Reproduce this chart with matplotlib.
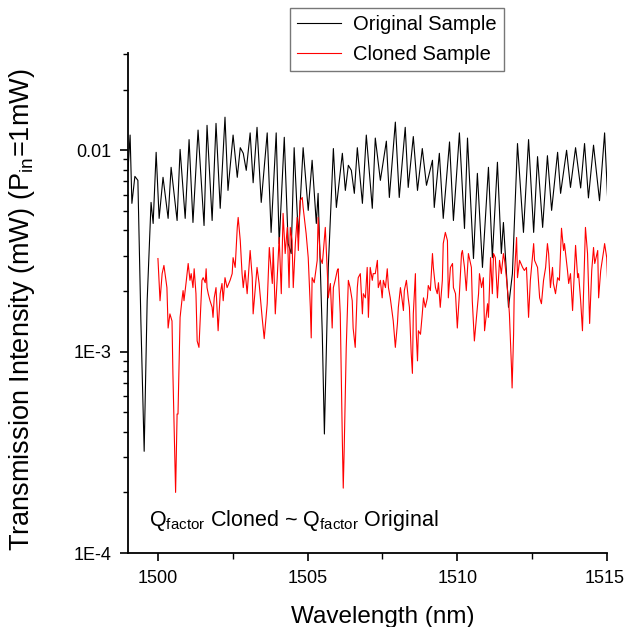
import numpy as np
import matplotlib
matplotlib.use("Agg")
import matplotlib.pyplot as plt
import matplotlib.transforms as mtransforms
from matplotlib.ticker import FixedLocator, FixedFormatter, LogLocator, NullFormatter

plt.rcParams['font.family'] = ['Liberation Sans', 'DejaVu Sans']
plt.rcParams['mathtext.fontset'] = 'custom'
plt.rcParams['mathtext.rm'] = 'Liberation Sans'
plt.rcParams['mathtext.it'] = 'Liberation Sans:italic'

# Original sample (wavelength nm, transmission mW)
orig_nm = [1499.00, 1499.07, 1499.13, 1499.23, 1499.33, 1499.43, 1499.54, 1499.64, 1499.77, 1499.84,
           1499.94, 1500.04, 1500.17, 1500.34, 1500.44, 1500.64, 1500.74, 1500.91, 1501.04, 1501.17,
           1501.34, 1501.54, 1501.64, 1501.81, 1501.94, 1502.08, 1502.24, 1502.34, 1502.51, 1502.65,
           1502.75, 1502.85, 1502.95, 1503.08, 1503.18, 1503.31, 1503.45, 1503.65, 1503.78, 1503.95,
           1504.05, 1504.22, 1504.35, 1504.45, 1504.55, 1504.69, 1504.85, 1505.02, 1505.15, 1505.29,
           1505.35, 1505.49, 1505.56, 1505.69, 1505.86, 1505.96, 1506.16, 1506.26, 1506.36, 1506.46,
           1506.56, 1506.66, 1506.83, 1506.96, 1507.16, 1507.26, 1507.43, 1507.63, 1507.73, 1507.93,
           1508.06, 1508.26, 1508.36, 1508.53, 1508.67, 1508.83, 1508.97, 1509.17, 1509.23, 1509.40,
           1509.53, 1509.74, 1509.87, 1510.07, 1510.24, 1510.34, 1510.54, 1510.67, 1510.84, 1511.04,
           1511.17, 1511.34, 1511.47, 1511.54, 1511.71, 1511.84, 1512.01, 1512.21, 1512.38, 1512.55,
           1512.68, 1512.85, 1513.01, 1513.15, 1513.35, 1513.45, 1513.65, 1513.78, 1513.95, 1514.12,
           1514.25, 1514.38, 1514.55, 1514.75, 1514.92, 1515.02]
orig_mw = [0.0080, 0.0119, 0.00545, 0.00742, 0.00709, 0.00142, 0.00032, 0.00179, 0.00551, 0.00433,
           0.00977, 0.00459, 0.00734, 0.00459, 0.00823, 0.00448, 0.0101, 0.00459, 0.0113, 0.00438,
           0.0126, 0.00423, 0.0133, 0.00448, 0.0136, 0.00515, 0.0146, 0.00632, 0.0119, 0.00734,
           0.0103, 0.00966, 0.00795, 0.0122, 0.0069, 0.0130, 0.00551, 0.0122, 0.00391, 0.0122,
           0.00344, 0.0116, 0.00344, 0.00307, 0.0103, 0.00369, 0.0103, 0.00503, 0.00892, 0.00433,
           0.00611, 0.00122, 0.00039, 0.00262, 0.0102, 0.0052, 0.00966, 0.00632, 0.00842, 0.00795,
           0.00611, 0.0103, 0.00545, 0.0119, 0.00515, 0.0115, 0.00709, 0.0111, 0.00583, 0.0138,
           0.00583, 0.0130, 0.00654, 0.0117, 0.00632, 0.0102, 0.0067, 0.00892, 0.0052, 0.00966,
           0.00459, 0.0110, 0.00448, 0.0122, 0.00409, 0.0115, 0.0029, 0.00768, 0.00262, 0.00823,
           0.00293, 0.00872, 0.00307, 0.00438, 0.00166, 0.00244, 0.0108, 0.00391, 0.0113, 0.00391,
           0.0093, 0.00414, 0.0094, 0.00503, 0.00977, 0.00611, 0.0100, 0.00654, 0.0103, 0.0065,
           0.0108, 0.0058, 0.0106, 0.00562, 0.0122, 0.0058]

# Cloned sample
clone_nm = [1500.00, 1500.07, 1500.14, 1500.20, 1500.30, 1500.34, 1500.40, 1500.47, 1500.50, 1500.57,
            1500.59, 1500.64, 1500.67, 1500.74, 1500.81, 1500.84, 1500.87, 1500.94, 1501.01, 1501.07,
            1501.11, 1501.17, 1501.21, 1501.27, 1501.31, 1501.37, 1501.47, 1501.51, 1501.58, 1501.61,
            1501.64, 1501.68, 1501.74, 1501.81, 1501.84, 1501.88, 1501.94, 1502.01, 1502.08, 1502.14,
            1502.18, 1502.24, 1502.31, 1502.41, 1502.48, 1502.51, 1502.58, 1502.65, 1502.68, 1502.75,
            1502.81, 1502.85, 1502.91, 1502.98, 1503.01, 1503.08, 1503.15, 1503.18, 1503.31, 1503.38,
            1503.48, 1503.55, 1503.65, 1503.72, 1503.82, 1503.85, 1503.92, 1503.98, 1504.05, 1504.12,
            1504.18, 1504.25, 1504.32, 1504.38, 1504.42, 1504.48, 1504.52, 1504.59, 1504.65, 1504.69,
            1504.75, 1504.82, 1504.85, 1504.95, 1505.02, 1505.09, 1505.12, 1505.15, 1505.22, 1505.32,
            1505.35, 1505.42, 1505.49, 1505.52, 1505.59, 1505.66, 1505.69, 1505.76, 1505.82, 1505.86,
            1505.92, 1505.99, 1506.02, 1506.09, 1506.16, 1506.19, 1506.22, 1506.29, 1506.36, 1506.42,
            1506.49, 1506.52, 1506.59, 1506.66, 1506.69, 1506.76, 1506.83, 1506.86, 1506.93, 1506.99,
            1507.03, 1507.09, 1507.16, 1507.19, 1507.26, 1507.33, 1507.36, 1507.43, 1507.49, 1507.53,
            1507.60, 1507.66, 1507.70, 1507.76, 1507.83, 1507.86, 1507.93, 1508.00, 1508.03, 1508.10,
            1508.16, 1508.20, 1508.23, 1508.30, 1508.36, 1508.40, 1508.46, 1508.50, 1508.53, 1508.60,
            1508.63, 1508.67, 1508.70, 1508.77, 1508.83, 1508.87, 1508.93, 1509.00, 1509.03, 1509.10,
            1509.17, 1509.20, 1509.27, 1509.33, 1509.37, 1509.43, 1509.50, 1509.53, 1509.60, 1509.67,
            1509.70, 1509.77, 1509.84, 1509.87, 1509.94, 1510.00, 1510.07, 1510.14, 1510.17, 1510.24,
            1510.30, 1510.37, 1510.47, 1510.50, 1510.57, 1510.64, 1510.71, 1510.74, 1510.81, 1510.87,
            1510.91, 1511.01, 1511.04, 1511.11, 1511.17, 1511.21, 1511.27, 1511.34, 1511.41, 1511.47,
            1511.54, 1511.58, 1511.64, 1511.71, 1511.74, 1511.81, 1511.83, 1511.88, 1511.91, 1511.98,
            1512.01, 1512.08, 1512.18, 1512.24, 1512.31, 1512.38, 1512.44, 1512.55, 1512.58, 1512.68,
            1512.75, 1512.81, 1512.88, 1512.95, 1513.01, 1513.05, 1513.11, 1513.18, 1513.21, 1513.28,
            1513.35, 1513.41, 1513.48, 1513.55, 1513.58, 1513.68, 1513.72, 1513.78, 1513.85, 1513.95,
            1514.02, 1514.05, 1514.12, 1514.18, 1514.28, 1514.35, 1514.42, 1514.49, 1514.55, 1514.59,
            1514.69, 1514.72, 1514.79, 1514.89, 1514.92, 1514.99, 1515.02]
clone_mw = [0.0029, 0.00179, 0.00244, 0.00268, 0.00208, 0.00131, 0.00154, 0.00142, 0.00078, 0.00028,
            0.00020, 0.00049, 0.00049, 0.00148, 0.00185, 0.00201, 0.00179, 0.0022, 0.00274, 0.00226,
            0.00244, 0.00208, 0.00258, 0.00194, 0.00113, 0.00105, 0.00226, 0.00233, 0.0022, 0.00258,
            0.00208, 0.00194, 0.00179, 0.00166, 0.00148, 0.00185, 0.00208, 0.00127, 0.00194, 0.00218,
            0.00179, 0.00233, 0.00208, 0.00226, 0.00244, 0.00293, 0.00262, 0.00414, 0.00464, 0.00356,
            0.00244, 0.00208, 0.00253, 0.00194, 0.00226, 0.00318, 0.00233, 0.00154, 0.00262, 0.00218,
            0.00148, 0.00116, 0.00173, 0.00329, 0.00218, 0.00329, 0.00154, 0.00226, 0.00369, 0.00194,
            0.00486, 0.00307, 0.00414, 0.00208, 0.00414, 0.00356, 0.00208, 0.00344, 0.00464, 0.00318,
            0.00562, 0.00583, 0.0052, 0.00386, 0.00293, 0.00166, 0.00117, 0.00233, 0.0022, 0.00284,
            0.00464, 0.00293, 0.00274, 0.00307, 0.00414, 0.00244, 0.00185, 0.00218, 0.00131, 0.00208,
            0.00226, 0.00253, 0.00258, 0.00154, 0.00036, 0.00021, 0.00032, 0.00105, 0.00226, 0.00208,
            0.00179, 0.00131, 0.00105, 0.00208, 0.00233, 0.00244, 0.00154, 0.00194, 0.00185, 0.00262,
            0.00148, 0.00262, 0.00226, 0.00244, 0.00244, 0.00284, 0.00208, 0.00226, 0.00185, 0.00226,
            0.00208, 0.00258, 0.00208, 0.00185, 0.00154, 0.00142, 0.00105, 0.00138, 0.00166, 0.00208,
            0.00179, 0.0016, 0.00201, 0.00226, 0.00185, 0.00166, 0.00098, 0.00078, 0.00154, 0.00244,
            0.00122, 0.0009, 0.00127, 0.00122, 0.00154, 0.00185, 0.00166, 0.00185, 0.00213, 0.00201,
            0.00307, 0.00262, 0.00208, 0.00194, 0.0022, 0.00166, 0.00226, 0.00344, 0.00391, 0.00356,
            0.00185, 0.00262, 0.00274, 0.00208, 0.00194, 0.00131, 0.00194, 0.00307, 0.00318, 0.00262,
            0.00201, 0.00307, 0.00262, 0.00179, 0.00113, 0.00148, 0.00194, 0.00244, 0.00208, 0.00233,
            0.00127, 0.00173, 0.00148, 0.00293, 0.00194, 0.00307, 0.00293, 0.00185, 0.00284, 0.00244,
            0.00307, 0.00284, 0.00233, 0.00179, 0.00154, 0.00083, 0.00066, 0.00122, 0.00244, 0.00369,
            0.00233, 0.00284, 0.00262, 0.00253, 0.00262, 0.00148, 0.00226, 0.00344, 0.00284, 0.00262,
            0.00185, 0.00173, 0.00226, 0.00262, 0.00344, 0.00307, 0.00208, 0.00262, 0.00218, 0.00194,
            0.00233, 0.00226, 0.0041, 0.00318, 0.00344, 0.00253, 0.00218, 0.00244, 0.0016, 0.00337,
            0.00233, 0.00244, 0.00179, 0.00127, 0.00414, 0.00307, 0.00138, 0.00253, 0.00329, 0.00274,
            0.00318, 0.00185, 0.00253, 0.00318, 0.00344, 0.00293, 0.00226]

fig = plt.figure(figsize=(6.25, 6.27), dpi=100)
ax = fig.add_axes([0.2048, 0.118, 0.7664, 0.7974])

ax.plot(orig_nm, orig_mw, color='black', lw=0.8, label='Original Sample')
ax.plot(clone_nm, clone_mw, color='#ff0000', lw=0.8, label='Cloned Sample')

ax.set_yscale('log')
ax.set_xlim(1499, 1515)
ax.set_ylim(1e-4, 0.0304)

ax.xaxis.set_major_locator(FixedLocator([1500, 1505, 1510, 1515]))
ax.xaxis.set_minor_locator(FixedLocator([1502.5, 1507.5, 1512.5]))
ax.yaxis.set_major_locator(FixedLocator([1e-4, 1e-3, 1e-2]))
ax.yaxis.set_major_formatter(FixedFormatter(['1E-4', '1E-3', '0.01']))
ax.yaxis.set_minor_locator(LogLocator(base=10, subs=np.arange(2, 10)))
ax.yaxis.set_minor_formatter(NullFormatter())

for s in ['top', 'right']:
    ax.spines[s].set_visible(False)
for s in ['left', 'bottom']:
    ax.spines[s].set_linewidth(1.3)

ax.tick_params(which='major', direction='out', length=6, width=1.2, labelsize=13, pad=6)
ax.tick_params(which='minor', direction='out', length=3.5, width=1.0)
ax.tick_params(axis='x', which='minor', length=4)

# keep the last x label inside the canvas like the reference
fig.canvas.draw()
xlabels = ax.get_xticklabels()
xlabels[-1].set_horizontalalignment('right')
xlabels[-1].set_transform(xlabels[-1].get_transform() +
                          mtransforms.ScaledTranslation(13 / 72, 0, fig.dpi_scale_trans))

ax.set_xlabel('Wavelength (nm)', fontsize=17.5)
ax.xaxis.set_label_coords((383 - 128) / 479, -0.105)
ax.set_ylabel(r'Transmission Intensity (mW) (P$_{\mathrm{in}}$=1mW)', fontsize=19.5)
ax.yaxis.set_label_coords(-0.19, 0.486)

ax.text(1499.7, 1.36e-4, r'Q$_{\mathrm{factor}}$ Cloned ~ Q$_{\mathrm{factor}}$ Original',
        fontsize=15.5, ha='left', va='baseline')

leg = ax.legend(loc='upper right', bbox_to_anchor=(504 / 625, 1 - 8 / 627),
                bbox_transform=fig.transFigure, fontsize=14.5, frameon=True, fancybox=False,
                borderaxespad=0, handlelength=2.2, handletextpad=0.6, labelspacing=0.55,
                borderpad=0.35)
leg.get_frame().set_edgecolor('#555555')
leg.get_frame().set_linewidth(1.0)

fig.savefig('out.png', dpi=100)
